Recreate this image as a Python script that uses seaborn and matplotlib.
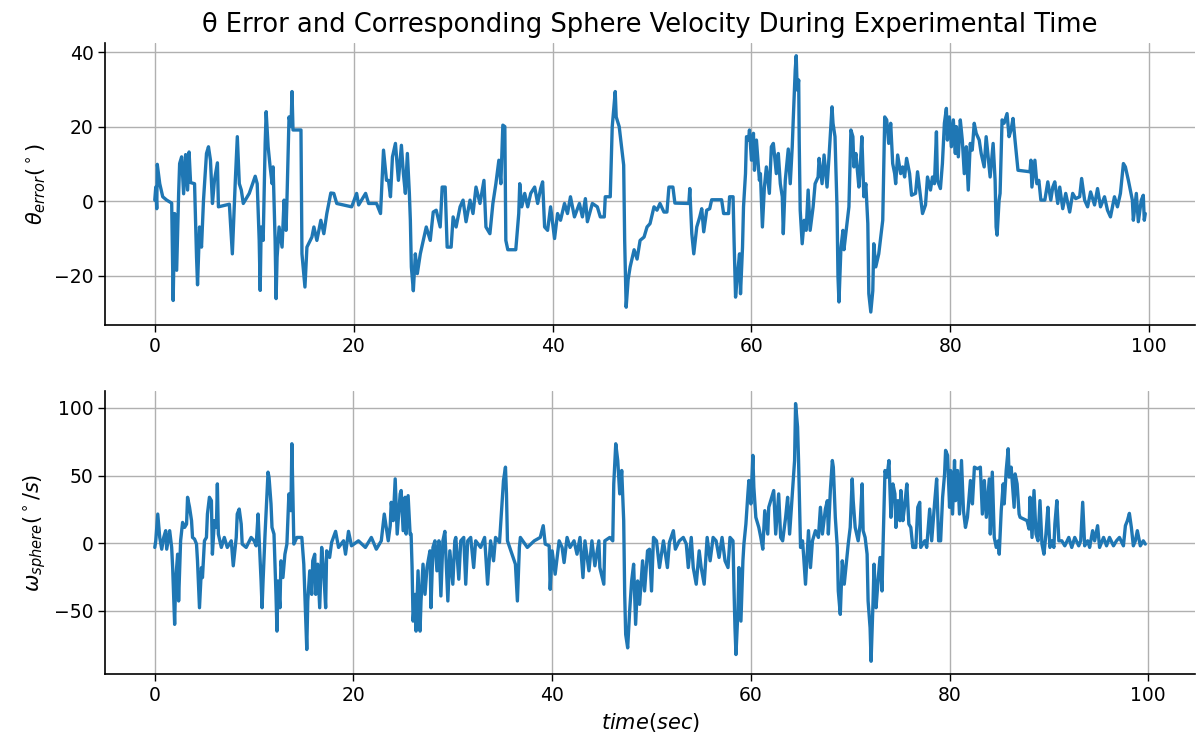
import numpy as np
import pandas as pd
import matplotlib
matplotlib.use('Agg')
import matplotlib.pyplot as plt
import seaborn as sns

# theta error trace (time in s, error in deg)
theta_t = [0.0, 0.1, 0.2, 0.25, 0.5, 0.8, 1.2, 1.7, 1.85, 2.0, 2.2, 2.4, 2.5, 2.7, 2.9, 3.1, 3.3, 3.45, 3.6,
           4.0, 4.2, 4.3, 4.5, 4.7, 4.9, 5.2, 5.4, 5.6, 5.8, 6.0, 6.3, 6.4, 7.5, 7.8, 8.1, 8.3, 8.5, 8.7, 8.9,
           9.5, 10.1, 10.3, 10.5, 10.6, 10.7, 10.9, 11.1, 11.2, 11.4, 11.6, 11.8, 11.9, 12.1, 12.2, 12.3,
           12.5, 12.8, 13.0, 13.2, 13.3, 13.5, 13.7, 13.8, 13.9, 14.7, 14.8, 15.1, 15.3, 15.8, 16.0, 16.3,
           16.7, 17.0, 17.3, 17.7, 18.0, 18.3, 19.8, 20.3, 20.5, 21.2, 21.5, 22.3, 22.7, 23.0, 23.3, 23.5,
           23.7, 23.9, 24.2, 24.5, 24.8, 25.0, 25.2, 25.4, 25.6, 25.7, 25.8, 26.0, 26.2, 26.4, 26.7, 27.0,
           27.3, 27.7, 28.0, 28.3, 28.7, 28.9, 29.2, 29.4, 29.8, 30.0, 30.3, 30.7, 31.0, 31.3, 31.7, 32.0,
           32.3, 32.7, 33.1, 33.3, 33.7, 34.0, 34.3, 34.6, 34.8, 35.0, 35.2, 35.3, 35.5, 36.3, 36.6, 36.7,
           36.9, 37.2, 37.5, 37.8, 38.2, 38.5, 38.8, 39.0, 39.2, 39.5, 39.8, 40.2, 40.5, 40.8, 41.2, 41.5,
           41.8, 42.2, 42.7, 43.0, 43.3, 43.5, 44.0, 44.5, 44.8, 45.2, 45.3, 45.8, 46.0, 46.3, 46.4, 46.7,
           47.15, 47.25, 47.4, 47.6, 47.8, 48.2, 48.5, 48.8, 49.2, 49.5, 49.8, 50.2, 50.5, 50.8, 51.2, 51.5,
           51.7, 52.1, 52.3, 53.7, 53.8, 54.0, 54.2, 54.5, 54.8, 55.0, 55.2, 55.5, 55.8, 56.0, 57.0, 57.2,
           57.7, 57.8, 58.15, 58.25, 58.4, 58.6, 58.8, 58.9, 59.1, 59.2, 59.4, 59.5, 59.7, 59.8, 60.0, 60.2,
           60.3, 60.5, 60.8, 60.9, 61.1, 61.3, 61.5, 61.8, 62.0, 62.2, 62.5, 62.7, 62.9, 63.1, 63.2, 63.4,
           63.7, 63.9, 64.1, 64.2, 64.4, 64.5, 64.6, 64.75, 64.8, 64.9, 65.1, 65.3, 65.5, 65.7, 65.9, 66.2,
           66.4, 66.7, 66.8, 67.1, 67.3, 67.6, 67.8, 68.1, 68.2, 68.4, 68.6, 68.7, 68.8, 69.0, 69.2, 69.3,
           69.6, 69.8, 70.0, 70.2, 70.3, 70.5, 70.8, 70.9, 71.1, 71.3, 71.5, 71.7, 71.8, 72.0, 72.2, 72.3,
           72.5, 72.8, 73.0, 73.2, 73.4, 73.6, 73.8, 74.0, 74.2, 74.4, 74.5, 74.7, 75.0, 75.2, 75.4, 75.6,
           75.9, 76.1, 76.5, 76.7, 77.0, 77.2, 77.5, 77.7, 78.0, 78.2, 78.4, 78.6, 78.7, 79.0, 79.2, 79.4,
           79.6, 79.7, 79.9, 80.1, 80.3, 80.5, 80.6, 80.8, 81.0, 81.2, 81.4, 81.6, 81.8, 82.0, 82.2, 82.4,
           82.6, 82.9, 83.1, 83.4, 83.6, 83.9, 84.0, 84.3, 84.5, 84.6, 84.7, 84.9, 85.0, 85.2, 85.4, 85.6,
           85.7, 85.9, 86.1, 86.3, 86.5, 86.8, 88.0, 88.1, 88.2, 88.5, 88.7, 88.9, 89.1, 89.5, 89.8, 90.1,
           90.3, 90.5, 90.8, 91.0, 91.3, 91.6, 92.0, 92.3, 92.6, 93.0, 93.2, 93.5, 93.8, 94.1, 94.5, 94.8,
           95.1, 95.5, 95.8, 96.1, 96.5, 96.8, 97.1, 97.4, 97.6, 97.9, 98.3, 98.4, 98.7, 98.9, 99.2, 99.4,
           99.5, 99.6]
theta_err = [0.3, 3.8, -2.0, 9.9, 4.7, 1.2, 0.3, -0.5, -26.6, -3.3, -18.5, 2.1, 10.1, 11.9, 2.0, 12.5, 3.0, 13.2, 5.0,
             4.7, -15.0, -22.4, -6.9, -12.3, 0.3, 12.8, 14.6, 11.0, -0.6, 5.6, 10.3, -1.5, -0.8, -14.1, 5.6, 17.3, 4.7, 3.0, -0.6,
             2.1, 6.7, 4.7, -10.5, -23.9, -6.9, -10.5, 15.5, 24.0, 14.6, 9.2, 4.7, 9.2, -10.5, -26.1, -15.0,
             -6.9, -12.3, 0.3, -7.8, 1.2, 22.6, 20.0, 29.4, 19.1, 19.1, -14.1, -23.0, -12.3, -9.6, -6.9, -10.5,
             -5.1, -8.7, -3.3, 2.2, 2.1, -0.6, -1.5, 2.1, -1.0, 2.1, -0.6, -0.6, -3.3, 13.7, 5.6, 5.6,
             1.2, 11.9, 15.5, 5.6, 15.0, 7.4, 2.1, 12.8, 2.1, -5.1, -17.6, -24.0, -14.1, -19.4, -14.1, -10.5,
             -6.9, -10.5, -2.9, -2.4, -6.9, 3.8, 3.8, -12.3, -12.3, -4.2, -6.9, -1.5, 0.3, -5.5, 0.3, -3.3,
             3.8, -0.6, 5.6, -6.9, -8.7, -0.6, 4.7, 11.0, 4.7, 20.4, 20.0, -10.5, -13.0, -13.0, -3.3, 4.7,
             -1.5, 2.1, -1.5, 2.1, 3.8, -0.6, 3.4, 5.2, -6.9, -7.8, -1.5, -10.0, -3.3, -5.1, -0.6, -3.3,
             1.2, -4.2, -0.6, -4.2, 0.7, -5.5, -0.6, -1.5, -4.2, -4.2, 1.2, 1.2, 20.0, 29.4, 22.6, 20.0,
             9.7, -10.5, -28.4, -21.0, -17.6, -13.0, -15.5, -10.5, -9.6, -6.9, -6.0, -1.5, -2.4, -0.6, -2.9, -2.9,
             3.8, 3.8, -0.5, -0.6, 3.4, -8.7, -14.1, -6.9, -4.2, -2.0, -8.2, -2.4, -2.0, 0.4, 0.4, -3.3,
             -3.3, 1.2, 1.2, -10.5, -25.7, -19.4, -14.1, -24.8, -12.3, -1.5, 7.4, 17.3, 16.4, 19.1, 11.0, 18.2,
             8.3, 16.4, 5.6, 7.4, -6.9, 3.8, 9.2, 2.1, 14.6, 15.5, 7.4, 12.8, 4.7, 1.2, -8.7, 5.6,
             14.0, 4.7, 14.6, 21.8, 35.2, 39.0, 29.8, 32.5, 16.4, -2.4, -11.4, -5.1, -7.8, 3.0, -7.8, -1.5,
             4.7, 6.5, 11.5, 4.7, 12.4, 3.8, 12.0, 25.3, 20.9, 17.3, -1.5, -20.3, -27.0, -12.3, -7.8, -13.0,
             -6.0, -1.5, 19.1, 17.3, 9.2, 12.8, 3.8, 7.4, 17.3, 1.2, 4.7, -6.0, -24.8, -29.7, -24.0, -11.4,
             -17.6, -14.1, -9.6, -5.1, 22.6, 21.8, 15.5, 20.9, 10.1, 7.4, 4.7, 12.4, 7.4, 9.2, 6.5, 11.5,
             7.4, 1.6, 2.1, 7.9, 1.2, -3.3, -1.0, 6.5, 3.0, 6.5, 4.7, 18.6, 5.6, 3.4, 10.1, 20.9,
             24.9, 16.4, 22.6, 14.6, 21.8, 12.8, 20.0, 11.9, 21.8, 16.4, 7.4, 14.6, 3.0, 15.5, 13.7, 20.9,
             18.2, 16.4, 12.8, 9.2, 17.3, 9.2, 6.5, 15.5, 5.6, -6.9, -9.1, 0.3, 2.1, 21.8, 20.9, 22.6,
             23.5, 17.3, 19.1, 22.2, 16.4, 8.3, 7.9, 11.0, 3.8, 11.0, 4.7, 5.6, 0.3, 0.3, 5.2, 0.3,
             3.8, 5.2, -0.6, 3.8, -2.0, 2.1, -2.9, 2.1, 0.7, 1.2, 6.1, 0.3, -1.5, 2.5, -1.0, 3.4,
             -1.5, 1.2, -2.4, -4.2, 1.2, -1.5, 2.1, 10.1, 9.2, 5.6, 0.3, -5.1, 2.1, -5.5, 0.3, 1.6,
             -5.1, -3.3]

# sphere angular velocity trace (time in s, deg/s)
omega_t = [0.0, 0.1, 0.3, 0.5, 0.7, 0.9, 1.1, 1.2, 1.5, 1.7, 1.8, 2.0, 2.1, 2.3, 2.4, 2.6, 2.8, 3.0, 3.2, 3.3,
           3.5, 3.7, 3.8, 4.0, 4.2, 4.3, 4.5, 4.7, 4.8, 5.0, 5.2, 5.3, 5.5, 5.7, 5.8, 6.0, 6.2, 6.3, 6.4,
           6.7, 7.0, 7.3, 7.7, 7.9, 8.2, 8.3, 8.5, 8.7, 8.8, 9.2, 9.7, 10.0, 10.2, 10.4, 10.5, 10.7, 10.8,
           10.9, 11.1, 11.3, 11.4, 11.5, 11.7, 11.8, 12.0, 12.2, 12.3, 12.4, 12.6, 12.7, 12.9, 13.1, 13.3,
           13.5, 13.7, 13.8, 13.9, 14.0, 14.3, 14.8, 15.0, 15.2, 15.3, 15.4, 15.6, 15.8, 15.9, 16.1, 16.2,
           16.4, 16.6, 16.8, 17.0, 17.2, 17.3, 17.6, 17.8, 18.2, 18.5, 19.0, 19.2, 19.5, 19.8, 20.5, 21.2,
           21.8, 22.3, 22.8, 23.1, 23.3, 23.5, 23.7, 23.8, 24.0, 24.2, 24.4, 24.7, 24.8, 25.0, 25.2, 25.3,
           25.5, 25.7, 25.8, 25.9, 26.0, 26.2, 26.3, 26.5, 26.7, 26.8, 27.0, 27.2, 27.4, 27.7, 27.8, 28.0,
           28.2, 28.4, 28.6, 28.8, 29.0, 29.2, 29.5, 29.7, 30.0, 30.2, 30.3, 30.6, 30.8, 31.1, 31.3, 31.5,
           31.8, 32.1, 32.3, 32.8, 33.2, 33.5, 33.8, 34.1, 34.3, 34.7, 34.9, 35.1, 35.3, 35.4, 35.5, 36.3,
           36.5, 36.7, 36.8, 37.5, 38.2, 38.8, 39.1, 39.3, 39.7, 39.8, 40.0, 40.3, 40.7, 41.0, 41.2, 41.5,
           41.8, 42.2, 42.5, 42.8, 43.1, 43.3, 43.7, 44.0, 44.3, 44.7, 44.8, 45.2, 45.3, 45.8, 46.1, 46.2,
           46.4, 46.6, 46.8, 47.0, 47.2, 47.3, 47.4, 47.6, 47.8, 48.0, 48.2, 48.4, 48.6, 48.8, 49.1, 49.3,
           49.6, 49.8, 50.0, 50.2, 50.5, 50.8, 51.2, 51.6, 51.8, 52.2, 52.4, 52.8, 53.2, 53.5, 53.7, 54.0,
           54.2, 54.5, 54.8, 55.0, 55.3, 55.6, 55.9, 56.2, 56.5, 56.8, 57.1, 57.4, 57.7, 57.9, 58.2, 58.3,
           58.4, 58.5, 58.7, 58.8, 59.0, 59.2, 59.3, 59.5, 59.7, 59.8, 60.0, 60.2, 60.3, 60.5, 60.8, 61.0,
           61.2, 61.4, 61.7, 61.8, 62.1, 62.3, 62.5, 62.8, 63.0, 63.2, 63.5, 63.7, 63.9, 64.2, 64.4, 64.5,
           64.7, 64.8, 65.0, 65.2, 65.3, 65.5, 65.8, 66.0, 66.2, 66.5, 66.8, 67.0, 67.2, 67.5, 67.7, 67.8,
           68.0, 68.2, 68.3, 68.5, 68.7, 68.8, 69.0, 69.2, 69.4, 69.7, 69.8, 70.0, 70.2, 70.3, 70.5, 70.8,
           71.0, 71.2, 71.3, 71.5, 71.7, 71.8, 72.0, 72.1, 72.3, 72.4, 72.6, 72.8, 73.0, 73.2, 73.3, 73.5,
           73.7, 73.9, 74.1, 74.3, 74.5, 74.6, 74.8, 75.0, 75.1, 75.3, 75.5, 75.7, 75.9, 76.1, 76.3, 76.6,
           76.8, 77.0, 77.1, 77.5, 77.7, 78.0, 78.2, 78.5, 78.7, 78.9, 79.1, 79.3, 79.5, 79.6, 79.8, 80.0,
           80.1, 80.3, 80.5, 80.6, 80.8, 81.0, 81.2, 81.4, 81.6, 81.8, 82.1, 82.3, 82.5, 82.8, 83.1, 83.3,
           83.5, 83.7, 84.0, 84.1, 84.3, 84.5, 84.7, 84.9, 85.0, 85.2, 85.4, 85.5, 85.7, 85.9, 86.0, 86.2,
           86.5, 86.6, 86.8, 87.0, 87.1, 87.8, 88.0, 88.1, 88.3, 88.5, 88.7, 88.9, 89.1, 89.3, 89.5, 89.7,
           89.9, 90.1, 90.3, 90.5, 90.6, 90.8, 91.0, 91.3, 91.6, 92.0, 92.3, 92.6, 93.0, 93.2, 93.4, 93.6,
           93.9, 94.1, 94.4, 94.6, 94.9, 95.1, 95.5, 95.8, 96.1, 96.5, 96.8, 97.1, 97.5, 97.7, 97.9, 98.1,
           98.3, 98.5, 98.7, 98.9, 99.2, 99.5, 99.7]
omega_sph = [-3.2, 1.7, 21.5, 4.2, -4.5, 4.2, 9.2, -4.5, 9.2, -3.2, -18.1, -60.1, -28.0, -8.2, -42.8, 1.7, 15.3, 11.6, 14.1, 33.9,
             26.5, 16.6, 4.2, 3.0, -0.7, -13.1, -47.8, -18.1, -25.5, 1.7, 4.2, 21.5, 33.9, 31.4, -8.2, 16.6, 11.6, 43.8, 6.7,
             -3.2, 4.2, -3.2, 1.7, -16.8, 4.2, 21.5, 25.2, 14.1, -0.7, -3.2, 4.2, 1.7, -2.0, 21.5, 4.2, -28.0, -47.8,
             -28.0, 6.7, 36.4, 52.5, 48.8, 29.0, 11.6, 6.7, -37.9, -65.1, -28.0, -47.8, -13.1, -25.5, -8.2, -0.7,
             36.4, 24.0, 73.5, 36.4, -0.7, 4.2, 4.2, -15.6, -57.7, -78.7, -42.8, -20.5, -37.9, -13.1, -8.2, -37.9,
             -15.6, -47.8, -3.2, -20.5, -47.8, -5.7, -10.6, 0.5, 8.7, -3.2, 1.7, -8.2, 8.7, -2.0, 1.7, -3.2,
             4.2, -4.5, 1.7, 21.5, 11.6, 1.7, 12.9, 30.2, 16.6, 47.5, 6.7, 36.4, 38.9, 9.2, 33.9, 6.7,
             35.1, 6.7, 6.7, -18.1, -57.7, -37.9, -65.1, -20.5, -65.1, -42.8, -15.6, -37.9, -18.1, -5.7, -47.8, -3.2,
             1.7, -20.5, 1.7, -39.1, 1.7, 8.7, -42.8, -5.7, -30.4, 1.7, 4.2, -26.7, 1.7, 4.2, -30.4, 1.7,
             4.2, -18.1, 1.7, -3.2, 4.2, -30.4, 1.7, -13.1, 4.2, 0.5, 24.0, 46.3, 56.2, 36.4, 1.7, -15.6,
             -42.8, -3.2, 4.2, -3.2, 1.7, 4.2, 12.9, -0.7, -2.0, -34.2, -5.7, -23.0, 1.7, -3.2, -14.4, 4.2,
             -3.2, 1.7, -8.2, 4.2, -25.5, 1.7, -20.5, 1.7, -16.8, 1.7, -18.1, -30.4, 1.7, 4.2, 1.7, 43.8,
             73.5, 61.1, 36.4, 53.7, 16.6, -37.9, -67.6, -77.5, -50.2, -28.0, -15.6, -60.1, -28.0, -45.3, -13.1, -35.4,
             -5.7, -4.5, -35.4, 4.2, 1.7, -18.1, 1.7, -18.1, 0.5, 9.2, -4.5, 1.7, 4.2, -0.7, -18.1, 4.2,
             -18.1, -30.4, -5.7, -18.1, -30.4, 4.2, -13.1, 4.2, 1.7, -10.6, 4.2, -13.1, -18.1, 4.2, 1.7, -33.0,
             -62.6, -82.4, -50.2, -18.1, -57.7, -13.1, -0.7, 14.1, 36.4, 46.3, 29.0, 64.9, 41.3, 19.1, 11.6, 4.2,
             -4.5, 24.0, 6.7, 26.5, 33.9, 38.9, 6.7, 36.4, 4.2, 1.7, 19.1, 33.9, 6.7, 38.9, 61.1, 103.2,
             85.9, 61.1, -3.2, 1.7, -8.2, -30.4, 9.2, -18.1, 1.7, 9.2, 4.2, 26.5, 6.7, 25.2, 31.4, 6.7,
             38.9, 61.1, 56.2, 19.1, -3.2, -35.4, -52.7, -13.1, -30.4, -8.2, -0.7, 11.6, 47.5, 31.4, 11.6, 1.7,
             14.1, 43.8, 9.2, 4.2, -8.2, -42.8, -62.6, -87.4, -42.8, -15.6, -47.8, -28.0, -10.6, -35.4, -3.2, 53.7,
             48.8, 61.1, 19.1, 43.8, 36.4, 11.6, 31.4, 16.6, 38.9, 16.6, 29.0, 43.8, 14.1, 11.6, -3.2, -3.2,
             26.5, 30.2, -3.2, 1.7, -3.2, 25.2, 1.7, 30.2, 47.5, 1.7, 1.7, 33.9, 51.2, 68.6, 64.9, 26.5,
             53.7, 21.5, 61.1, 31.4, 53.7, 21.5, 61.1, 24.0, 11.6, 19.1, 46.3, 29.0, 56.2, 55.0, 56.2, 21.5,
             46.3, 19.1, 47.5, 6.7, 52.5, 4.2, -3.2, 1.7, -8.2, 24.0, 43.8, 29.0, 53.7, 69.8, 48.8, 56.2,
             26.5, 51.2, 43.8, 21.5, 19.1, 16.6, 10.4, 33.9, 4.2, 38.9, 6.7, 1.7, 31.4, -0.7, -8.2, 6.7,
             26.5, -3.2, 1.7, -3.2, 14.1, 31.4, 1.7, 1.7, -2.0, 4.2, -3.2, 4.2, -2.0, 1.7, 30.2, -2.0,
             1.7, -3.2, 9.2, 1.7, 12.9, -3.2, 4.2, -2.0, 4.2, -2.0, 1.7, 4.2, -2.0, 12.9, 16.6, 22.0,
             11.6, -2.0, 1.7, 9.2, -2.0, 1.7, -0.7]

theta_df = pd.DataFrame({'time': theta_t, 'err': theta_err})
omega_df = pd.DataFrame({'time': omega_t, 'omega': omega_sph})

sns.set_style('ticks')
plt.rcParams['font.family'] = ['DejaVu Sans']
plt.rcParams['text.color'] = 'black'
plt.rcParams['axes.labelcolor'] = 'black'
plt.rcParams['xtick.color'] = 'black'
plt.rcParams['ytick.color'] = 'black'

fig = plt.figure(figsize=(11.96, 7.4), dpi=100)
ax1 = fig.add_axes([0.088, 0.561, 0.911, 0.381])
ax2 = fig.add_axes([0.088, 0.089, 0.911, 0.383])

line_kw = dict(color='#1f77b4', linewidth=2.4, estimator=None, sort=False)
sns.lineplot(data=theta_df, x='time', y='err', ax=ax1, **line_kw)
sns.lineplot(data=omega_df, x='time', y='omega', ax=ax2, **line_kw)

ax1.set_yticks([-20, 0, 20, 40])
ax2.set_yticks([-50, 0, 50, 100])

for ax in (ax1, ax2):
    ax.set_xticks([0, 20, 40, 60, 80, 100])
    ax.grid(True, color='#b0b0b0', linewidth=1.0)
    ax.tick_params(labelsize=13.5, length=5, width=1, color='black', labelcolor='black')
    for s in ('left', 'bottom'):
        ax.spines[s].set_color('black')
        ax.spines[s].set_linewidth(1.2)
    sns.despine(ax=ax)

ax1.set_xlabel('')
ax1.set_ylabel(r'$\theta_{error}(^\circ)$', fontsize=15)
ax2.set_ylabel(r'$\omega_{sphere}(^\circ/s)$', fontsize=15)
ax2.set_xlabel(r'$time(sec)$', fontsize=15)
ax1.set_title('θ Error and Corresponding Sphere Velocity During Experimental Time', fontsize=18.5, pad=8)

fig.savefig('out.png', dpi=100)
